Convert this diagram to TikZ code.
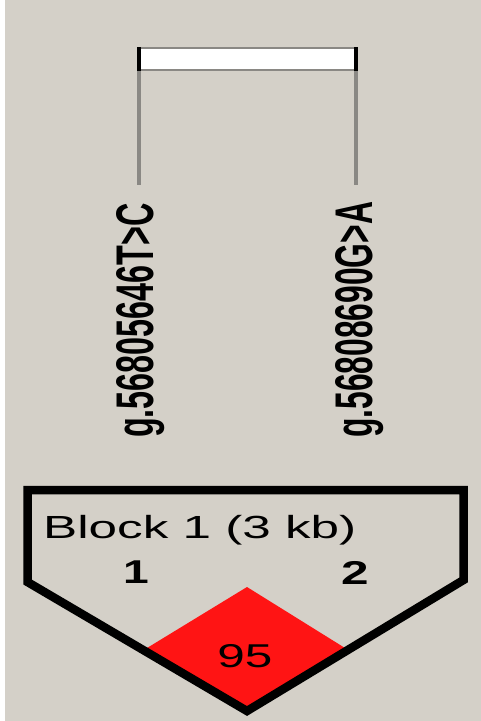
\documentclass[tikz,border=0pt]{standalone}
\usepackage{fontspec}
\setmainfont{Liberation Sans}
\definecolor{bg}{RGB}{212,208,200}
\definecolor{tickgray}{RGB}{138,136,132}
\definecolor{ldred}{RGB}{255,20,20}
\begin{document}
\begin{tikzpicture}[x=1pt,y=-1pt,
  markerline/.style={draw=tickgray, line width=3.5pt},
  snplabel/.style={rotate=90, anchor=base west, inner sep=0pt, font=\fontsize{53}{53}\selectfont\bfseries},
  blockline/.style={draw=black, line width=8.5pt, miter limit=20, line join=miter},
  idx/.style={anchor=base, inner sep=0pt, font=\fontsize{33}{33}\selectfont\bfseries}]
\useasboundingbox (0,0) rectangle (481,721);
\fill[bg] (0,0) rectangle (481,721);
\fill[white] (0,0) rectangle (5,721);
% marker bar
\filldraw[fill=white, draw=tickgray, line width=2pt] (138,48) rectangle (357,70);
\fill[black] (137,47) rectangle (141,71);
\fill[black] (354,47) rectangle (358,71);
% marker lines
\coordinate (m1top) at (139,71);
\coordinate (m1bot) at (139,185);
\coordinate (m2top) at (356,71);
\coordinate (m2bot) at (356,185);
\draw[markerline] (m1top) -- (m1bot);
\draw[markerline] (m2top) -- (m2bot);
% SNP labels
\node[snplabel] (snp1) at (153,438) {\scalebox{0.61}[1]{g.56805646T>C}};
\node[snplabel] (snp2) at (372,438) {\scalebox{0.6}[1]{g.56808690G>A}};
% LD diamond
\fill[ldred] (247,587) -- (345,648) -- (247,710) -- (147,648) -- cycle;
\node[anchor=base, inner sep=0pt, font=\fontsize{33}{33}\selectfont] (ld) at (245,667) {\scalebox{1.5}[1]{95}};
% block outline
\draw[blockline] (27.5,490) -- (463.5,490) -- (463.5,580) -- (247,711) -- (27.5,582) -- cycle;
\node[anchor=base west, inner sep=0pt, font=\fontsize{32}{32}\selectfont] (blk) at (43,538) {\scalebox{1.6}[1]{Block 1 (3 kb)}};
\node[idx] (i1) at (136,583) {\scalebox{1.4}[1]{1}};
\node[idx] (i2) at (355,584) {\scalebox{1.5}[1]{2}};
\end{tikzpicture}
\end{document}
